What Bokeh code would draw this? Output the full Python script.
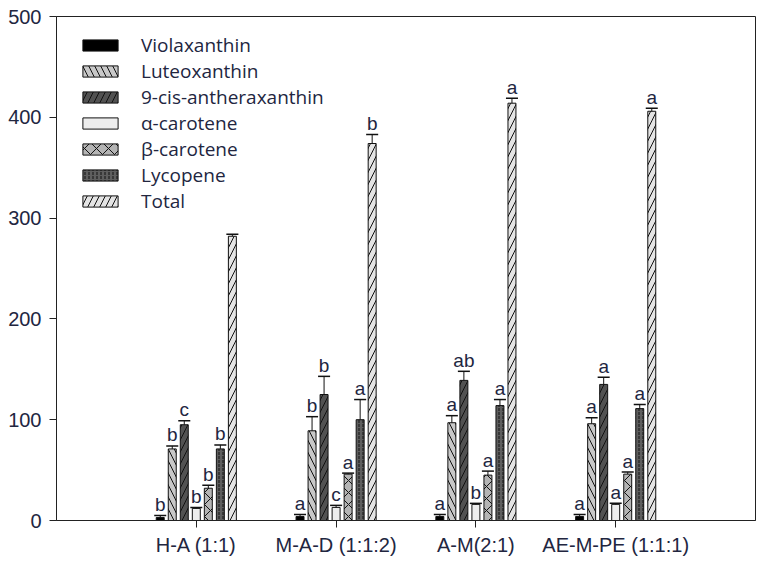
from bokeh.plotting import figure
from bokeh.models import Range1d, FixedTicker, Legend, LegendItem, ColumnDataSource
from bokeh.embed import file_html
from bokeh.resources import INLINE
from bokeh.core.properties import value

# ---------------- data ----------------
groups = ["H-A (1:1)", "M-A-D (1:1:2)", "A-M(2:1)", "AE-M-PE (1:1:1)"]
series = ["Violaxanthin", "Luteoxanthin", "9-cis-antheraxanthin",
          "\u03b1-carotene", "\u03b2-carotene", "Lycopene", "Total"]

violaxanthin = [3, 4, 4, 4]
violaxanthin_err = [2, 2, 2, 2]
luteoxanthin = [71, 89, 97, 96]
luteoxanthin_err = [3, 14, 7, 6]
cis_antheraxanthin = [95, 125, 139, 135]
cis_antheraxanthin_err = [4, 18, 9, 7]
alpha_carotene = [12, 13, 16, 16]
alpha_carotene_err = [1, 2, 1, 1]
beta_carotene = [32, 46, 45, 46]
beta_carotene_err = [3, 1, 4, 2]
lycopene = [71, 100, 114, 111]
lycopene_err = [4, 20, 6, 4]
total = [282, 374, 414, 406]
total_err = [2, 9, 5, 3]

violaxanthin_sig = ["b", "a", "a", "a"]
luteoxanthin_sig = ["b", "b", "a", "a"]
cis_antheraxanthin_sig = ["c", "b", "ab", "a"]
alpha_carotene_sig = ["b", "c", "b", "a"]
beta_carotene_sig = ["b", "a", "a", "a"]
lycopene_sig = ["b", "a", "a", "a"]
total_sig = ["", "b", "a", "a"]

y_ticks = [0, 100, 200, 300, 400, 500]

values = [violaxanthin, luteoxanthin, cis_antheraxanthin, alpha_carotene,
          beta_carotene, lycopene, total]
errors = [violaxanthin_err, luteoxanthin_err, cis_antheraxanthin_err,
          alpha_carotene_err, beta_carotene_err, lycopene_err, total_err]
letters = [violaxanthin_sig, luteoxanthin_sig, cis_antheraxanthin_sig,
           alpha_carotene_sig, beta_carotene_sig, lycopene_sig, total_sig]

# ---------------- styles ----------------
fills = ["#000000", "#c8c8c8", "#525252", "#ededed", "#b4b4b4", "#5e5e5e", "#e4e4e4"]
hatches = [None, "\\", "/", None, "x", ":", "/"]
TEXT = "#22263f"
BAR_W = 0.057
STEP = 0.086
CAP = 0.043

p = figure(width=762, height=562, output_backend="svg", toolbar_location=None,
           x_range=Range1d(0, 5), y_range=Range1d(0, 500))
p.min_border_left = 56
p.min_border_top = 16
p.min_border_right = 7
p.min_border_bottom = 42
p.grid.visible = False
p.outline_line_color = "#222222"
p.outline_line_width = 1
p.background_fill_color = "white"
p.border_fill_color = "white"

legend_items = []
for j, name in enumerate(series):
    xs = [i + 1 + (j - 3) * STEP for i in range(len(groups))]
    tops = values[j]
    caps = [t + e for t, e in zip(tops, errors[j])]
    src = ColumnDataSource(dict(x=xs, top=tops, cap=caps,
                                cl=[x - CAP for x in xs], cr=[x + CAP for x in xs],
                                lab=letters[j]))
    kw = {}
    if hatches[j]:
        kw = dict(hatch_pattern=hatches[j], hatch_color="#111111",
                  hatch_scale=12 if hatches[j] != ":" else 4, hatch_weight=1)
    r = p.vbar(x="x", top="top", bottom=0, width=BAR_W, source=src,
               fill_color=fills[j], line_color="#111111", line_width=1, **kw)
    p.segment(x0="x", y0="top", x1="x", y1="cap", source=src, line_color="#111111", line_width=1)
    p.segment(x0="cl", y0="cap", x1="cr", y1="cap", source=src, line_color="#111111", line_width=1.5)
    p.text(x="x", y="cap", text="lab", source=src, text_align="center",
           text_baseline="alphabetic", y_offset=-11, text_font=value("Liberation Sans"),
           text_font_size="19px", text_color=TEXT)
    legend_items.append(LegendItem(label=name, renderers=[r]))

legend = Legend(items=legend_items, location=(22, 306), orientation="vertical",
                border_line_color=None, background_fill_alpha=0,
                glyph_width=44, glyph_height=14, label_height=20, spacing=-2,
                padding=0, margin=0, label_standoff=19,
                label_text_font="Open Sans", label_text_font_size="19px",
                label_text_color=TEXT)
p.add_layout(legend, "center")

# axes
p.xaxis.ticker = FixedTicker(ticks=[1, 2, 3, 4])
p.xaxis.major_label_overrides = {i + 1: g for i, g in enumerate(groups)}
p.xaxis.minor_tick_line_color = None
p.xaxis.major_tick_out = 7
p.xaxis.major_tick_in = 0
p.xaxis.major_label_standoff = 6
p.xaxis.major_label_text_font = "Liberation Sans"
p.xaxis.major_label_text_font_size = "20px"
p.xaxis.major_label_text_color = TEXT
p.xaxis.axis_line_color = "#222222"
p.xaxis.major_tick_line_color = "#222222"

p.yaxis.ticker = FixedTicker(ticks=y_ticks)
p.yaxis.minor_tick_line_color = None
p.yaxis.major_tick_out = 7
p.yaxis.major_tick_in = 0
p.yaxis.major_label_standoff = 8
p.yaxis.major_label_text_font = "Liberation Sans"
p.yaxis.major_label_text_font_size = "20px"
p.yaxis.major_label_text_color = TEXT
p.yaxis.axis_line_color = "#222222"
p.yaxis.major_tick_line_color = "#222222"

open("out.html", "w").write(file_html(p, INLINE))
